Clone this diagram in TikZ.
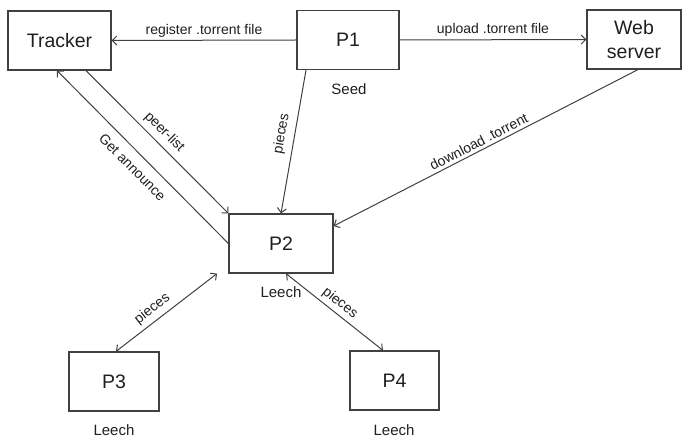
\documentclass[tikz,border=0pt]{standalone}
\usepackage{fontspec}
\setmainfont{Liberation Sans}
\usetikzlibrary{arrows.meta}
\definecolor{ink}{HTML}{1F1F1F}
\definecolor{wire}{HTML}{404040}
\tikzset{
  peer/.style={draw=wire, line width=1.2pt, rectangle, inner sep=0pt,
    minimum height=59pt, text=ink, font=\fontsize{19.5}{24}\selectfont, align=center},
  role/.style={text=ink, font=\fontsize{15}{18}\selectfont, inner sep=0pt},
  link/.style={draw=wire, line width=1pt,
    -{Straight Barb[length=4.5pt,width=9pt,line width=1pt]}},
  twoway/.style={draw=wire, line width=1pt,
    {Straight Barb[length=4.5pt,width=9pt,line width=1pt]}-{Straight Barb[length=4.5pt,width=9pt,line width=1pt]}},
  tag/.style={text=ink, font=\fontsize{14}{16}\selectfont, inner sep=1pt, sloped}
}
\begin{document}
\begin{tikzpicture}[x=1pt,y=1pt]
\useasboundingbox (0,0) rectangle (685,-438);

% peers and servers
\node[peer, minimum width=103pt] (tracker) at (59.5,-40.5) {Tracker};
\node[peer, minimum width=102pt] (p1) at (348,-40) {P1};
\node[peer, minimum width=94pt] (web) at (634,-39.5) {Web\\server};
\node[peer, minimum width=104pt] (p2) at (281,-243.5) {P2};
\node[peer, minimum width=90pt] (p3) at (114,-381.5) {P3};
\node[peer, minimum width=89pt] (p4) at (394.5,-380.5) {P4};

% roles
\node[role] (seed) at (349,-89) {Seed};
\node[role] (leech2) at (281,-292) {Leech};
\node[role] (leech3) at (114,-430) {Leech};
\node[role] (leech4) at (394,-430) {Leech};

% torrent publication
\draw[link] (p1.west) -- node[tag, above=1.5pt] {register .torrent file} (tracker.east);
\draw[link] (p1.east) -- node[tag, above=1.5pt] {upload .torrent file} (web.west);

% data and control flows towards P2
\draw[link] ([xshift=-42pt]p1.south) -- node[tag, above=5pt, pos=0.46] {pieces} (p2.north);
\draw[link] ([xshift=26.5pt]tracker.south) -- node[tag, above=4pt, pos=0.49] {peer-list} (p2.north west);
\draw[link] (p2.west) -- node[tag, below=8pt, pos=0.5] {Get announce} ([xshift=-2.5pt]tracker.south);
\draw[link] ([xshift=4pt]web.south) -- node[tag, above=2pt, pos=0.51] {download .torrent} ([yshift=17.5pt]p2.east);

% exchange between leeches
\draw[twoway] ([xshift=2pt]p3.north) -- node[tag, above=3.5pt, pos=0.43] {pieces} ([xshift=-64pt]p2.south);
\draw[twoway] ([xshift=5pt]p2.south) -- node[tag, above=2.5pt, pos=0.49] {pieces} ([xshift=-11.5pt]p4.north);
\end{tikzpicture}
\end{document}
